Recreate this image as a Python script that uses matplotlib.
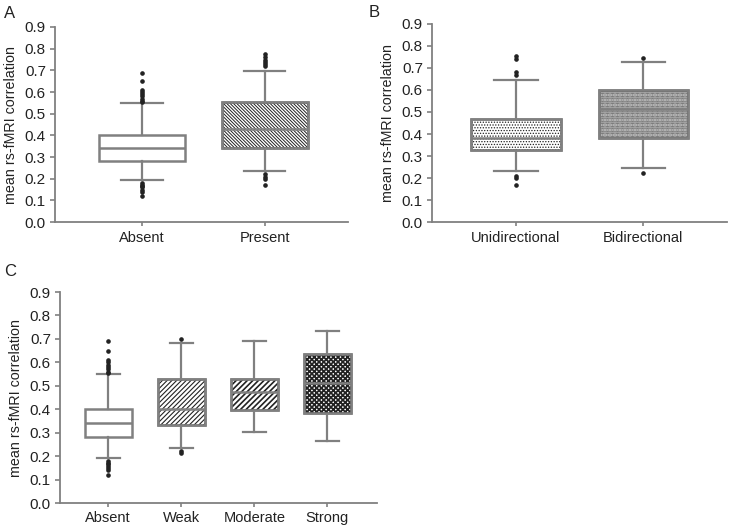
import matplotlib
matplotlib.use("Agg")
import matplotlib.pyplot as plt
from matplotlib.patches import PathPatch

plt.rcParams['font.family'] = ['Liberation Sans', 'DejaVu Sans']

# ---- data ----
a_labels = ["Absent", "Present"]
a_q1 = [0.281, 0.342]
a_med = [0.340, 0.431]
a_q3 = [0.403, 0.552]
a_wlo = [0.193, 0.235]
a_whi = [0.551, 0.699]
a_fliers = [[0.555, 0.56, 0.57, 0.58, 0.59, 0.60, 0.61, 0.65, 0.69,
             0.18, 0.17, 0.165, 0.16, 0.15, 0.14, 0.12],
            [0.72, 0.73, 0.74, 0.75, 0.76, 0.775, 0.22, 0.21, 0.20, 0.17]]
a_hatch = [None, "\\" * 10]
a_hlw = [1.0, 0.7]

b_labels = ["Unidirectional", "Bidirectional"]
b_q1 = [0.326, 0.382]
b_med = [0.384, 0.513]
b_q3 = [0.467, 0.599]
b_wlo = [0.231, 0.246]
b_whi = [0.643, 0.727]
b_fliers = [[0.755, 0.74, 0.68, 0.67, 0.21, 0.20, 0.17],
            [0.745, 0.225]]
b_hatch = ["." * 6, "." * 10]
b_hlw = [0.6, 0.8]

c_labels = ["Absent", "Weak", "Moderate", "Strong"]
c_q1 = [0.281, 0.334, 0.398, 0.383]
c_med = [0.340, 0.400, 0.472, 0.513]
c_q3 = [0.403, 0.529, 0.528, 0.637]
c_wlo = [0.193, 0.233, 0.302, 0.266]
c_whi = [0.551, 0.684, 0.691, 0.734]
c_fliers = [[0.555, 0.56, 0.57, 0.58, 0.59, 0.60, 0.61, 0.65, 0.69,
             0.18, 0.17, 0.165, 0.16, 0.15, 0.14, 0.12],
            [0.70, 0.22, 0.215],
            [],
            []]
c_hatch = [None, "/" * 7, "/" * 6, "x" * 7]
c_hlw = [1.0, 0.8, 1.2, 1.25]

yticks = [0.0, 0.1, 0.2, 0.3, 0.4, 0.5, 0.6, 0.7, 0.8, 0.9]

GRAY = "#808080"
TXT = "#222222"


def panel(ax, labels, q1, med, q3, wlo, whi, fliers, hatches, hlws, xlim, width, capw):
    stats = []
    for i in range(len(labels)):
        stats.append(dict(label=labels[i], q1=q1[i], med=med[i], q3=q3[i],
                          whislo=wlo[i], whishi=whi[i], fliers=fliers[i]))
    pos = list(range(1, len(labels) + 1))
    res = ax.bxp(stats, positions=pos, widths=width, patch_artist=True,
                 showfliers=True, capwidths=capw,
                 boxprops=dict(facecolor="white", edgecolor=GRAY, linewidth=1.8),
                 medianprops=dict(color=GRAY, linewidth=1.8),
                 whiskerprops=dict(color=GRAY, linewidth=1.6),
                 capprops=dict(color=GRAY, linewidth=1.6),
                 flierprops=dict(marker="o", markersize=2.3, markerfacecolor="#222222",
                                 markeredgecolor="#222222", linestyle="none"))
    for box, h, lw in zip(res["boxes"], hatches, hlws):
        box.set_zorder(2)
        if h:
            with plt.rc_context({"hatch.linewidth": lw}):
                hp = PathPatch(box.get_path(), facecolor="none", edgecolor="#222222",
                               hatch=h, linewidth=0, zorder=2.1,
                               transform=box.get_transform())
            ax.add_patch(hp)
            ep = PathPatch(box.get_path(), facecolor="none", edgecolor=GRAY,
                           linewidth=1.8, zorder=2.2, transform=box.get_transform())
            ax.add_patch(ep)
    for m in res["medians"]:
        m.set_zorder(2.3)
    ax.set_xlim(*xlim)
    ax.set_ylim(0, 0.9)
    ax.set_yticks(yticks)
    ax.set_yticklabels([f"{v:.1f}" for v in yticks])
    ax.set_xticks(pos)
    ax.set_xticklabels(labels)
    for s in ("top", "right"):
        ax.spines[s].set_visible(False)
    for s in ("left", "bottom"):
        ax.spines[s].set_color(GRAY)
        ax.spines[s].set_linewidth(1.3)
    ax.tick_params(axis="y", colors=GRAY, width=1.2, length=3.5, labelsize=11,
                   labelcolor=TXT, pad=3)
    ax.tick_params(axis="x", colors=GRAY, width=1.2, length=3, labelsize=10.5,
                   labelcolor=TXT, pad=3)
    ax.set_ylabel("mean rs-fMRI correlation", fontsize=10.3, color=TXT, labelpad=5)


fig = plt.figure(figsize=(7.29, 5.29), dpi=100)
axA = fig.add_axes([0.0754, 0.580, 0.402, 0.369])
axB = fig.add_axes([0.5926, 0.580, 0.405, 0.375])
axC = fig.add_axes([0.0823, 0.049, 0.435, 0.399])

panel(axA, a_labels, a_q1, a_med, a_q3, a_wlo, a_whi, a_fliers, a_hatch, a_hlw,
      (0.29, 2.68), 0.70, 0.34)
panel(axB, b_labels, b_q1, b_med, b_q3, b_wlo, b_whi, b_fliers, b_hatch, b_hlw,
      (0.34, 2.66), 0.70, 0.34)
panel(axC, c_labels, c_q1, c_med, c_q3, c_wlo, c_whi, c_fliers, c_hatch, c_hlw,
      (0.34, 4.68), 0.64, 0.32)

fig.text(0.006, 0.988, "A", fontsize=12, va="top", ha="left", color=TXT)
fig.text(0.505, 0.990, "B", fontsize=12, va="top", ha="left", color=TXT)
fig.text(0.006, 0.500, "C", fontsize=12, va="top", ha="left", color=TXT)

fig.savefig("out.png", dpi=100)
